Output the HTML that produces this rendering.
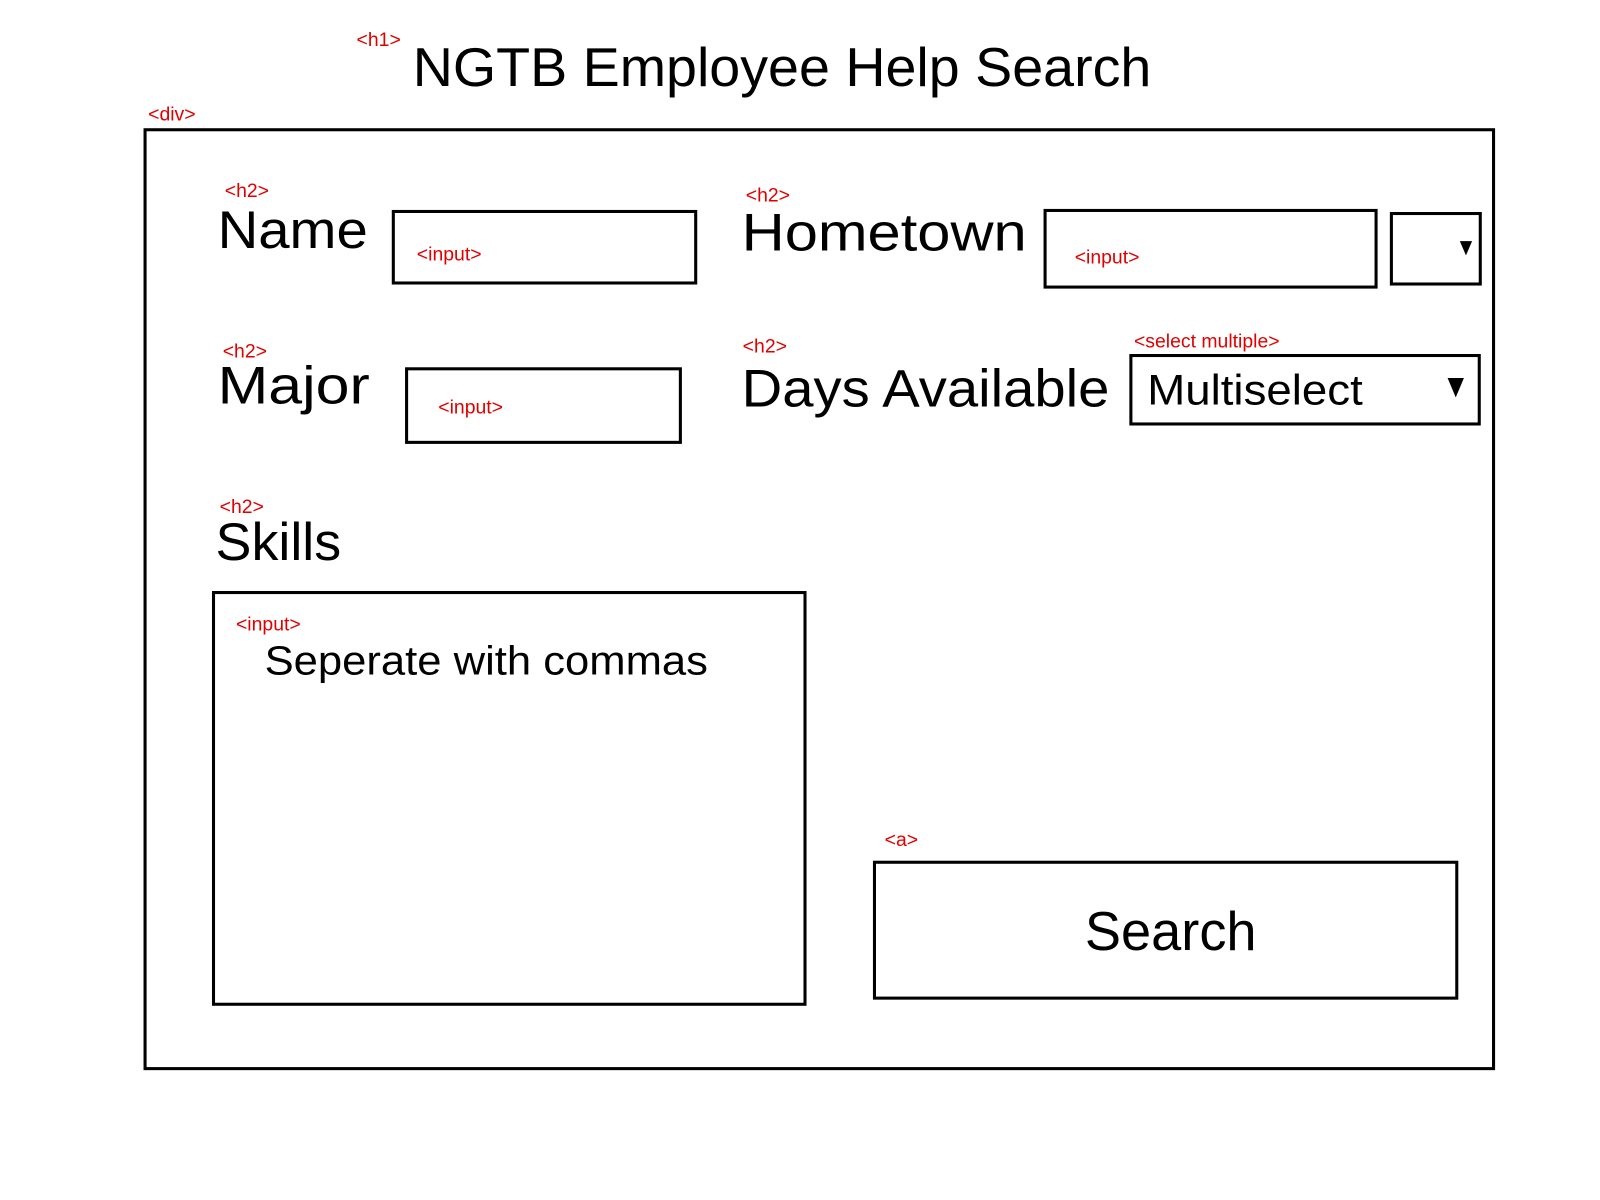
<!DOCTYPE html>
<html><head><meta charset="utf-8"><style>
html,body{margin:0;padding:0;background:#fff;}
svg{display:block;font-family:"Liberation Sans",sans-serif;}
.tag{fill:#e00000;font-size:19px;}
.lbl{fill:#000;font-size:52px;}
.box{fill:none;stroke:#000;stroke-width:3;}
</style></head><body>
<svg width="1600" height="1200" viewBox="0 0 1566.2 1174.6" preserveAspectRatio="none">
<rect width="1600" height="1200" fill="#fff"/>
<text class="tag" x="349" y="45">&lt;h1&gt;</text>
<text x="404" y="84" font-size="54" textLength="723" lengthAdjust="spacingAndGlyphs">NGTB Employee Help Search</text>
<text class="tag" x="145" y="118">&lt;div&gt;</text>
<rect class="box" x="142" y="127" width="1320" height="919"/>

<text class="tag" x="220" y="193">&lt;h2&gt;</text>
<text class="lbl" x="213" y="243" textLength="147" lengthAdjust="spacingAndGlyphs">Name</text>
<rect class="box" x="385" y="207" width="296" height="70"/>
<text class="tag" x="408" y="255">&lt;input&gt;</text>

<text class="tag" x="730" y="197">&lt;h2&gt;</text>
<text class="lbl" x="726" y="245" textLength="279" lengthAdjust="spacingAndGlyphs">Hometown</text>
<rect class="box" x="1023" y="206" width="324" height="75"/>
<text class="tag" x="1052" y="258">&lt;input&gt;</text>
<rect class="box" x="1362" y="209" width="87" height="69"/>
<polygon points="1429,236 1441,236 1435,250" fill="#000"/>

<text class="tag" x="218" y="350">&lt;h2&gt;</text>
<text class="lbl" x="213" y="395" textLength="149" lengthAdjust="spacingAndGlyphs">Major</text>
<rect class="box" x="398" y="361" width="268" height="72"/>
<text class="tag" x="429" y="405">&lt;input&gt;</text>

<text class="tag" x="727" y="345">&lt;h2&gt;</text>
<text class="lbl" x="726" y="398" textLength="360" lengthAdjust="spacingAndGlyphs">Days Available</text>
<text class="tag" x="1110" y="340">&lt;select multiple&gt;</text>
<rect class="box" x="1107" y="348" width="341" height="67"/>
<text x="1123" y="396" font-size="42" textLength="211" lengthAdjust="spacingAndGlyphs">Multiselect</text>
<polygon points="1417,370 1433,370 1425,389" fill="#000"/>

<text class="tag" x="215" y="502">&lt;h2&gt;</text>
<text class="lbl" x="211" y="548" textLength="123" lengthAdjust="spacingAndGlyphs">Skills</text>
<rect class="box" x="209" y="580" width="579" height="403"/>
<text class="tag" x="231" y="617">&lt;input&gt;</text>
<text x="259" y="660" font-size="40" textLength="434" lengthAdjust="spacingAndGlyphs">Seperate with commas</text>

<text class="tag" x="866" y="828">&lt;a&gt;</text>
<rect class="box" x="856" y="844" width="570" height="133"/>
<text x="1062" y="930" font-size="54" textLength="168" lengthAdjust="spacingAndGlyphs">Search</text>
</svg>
</body></html>
